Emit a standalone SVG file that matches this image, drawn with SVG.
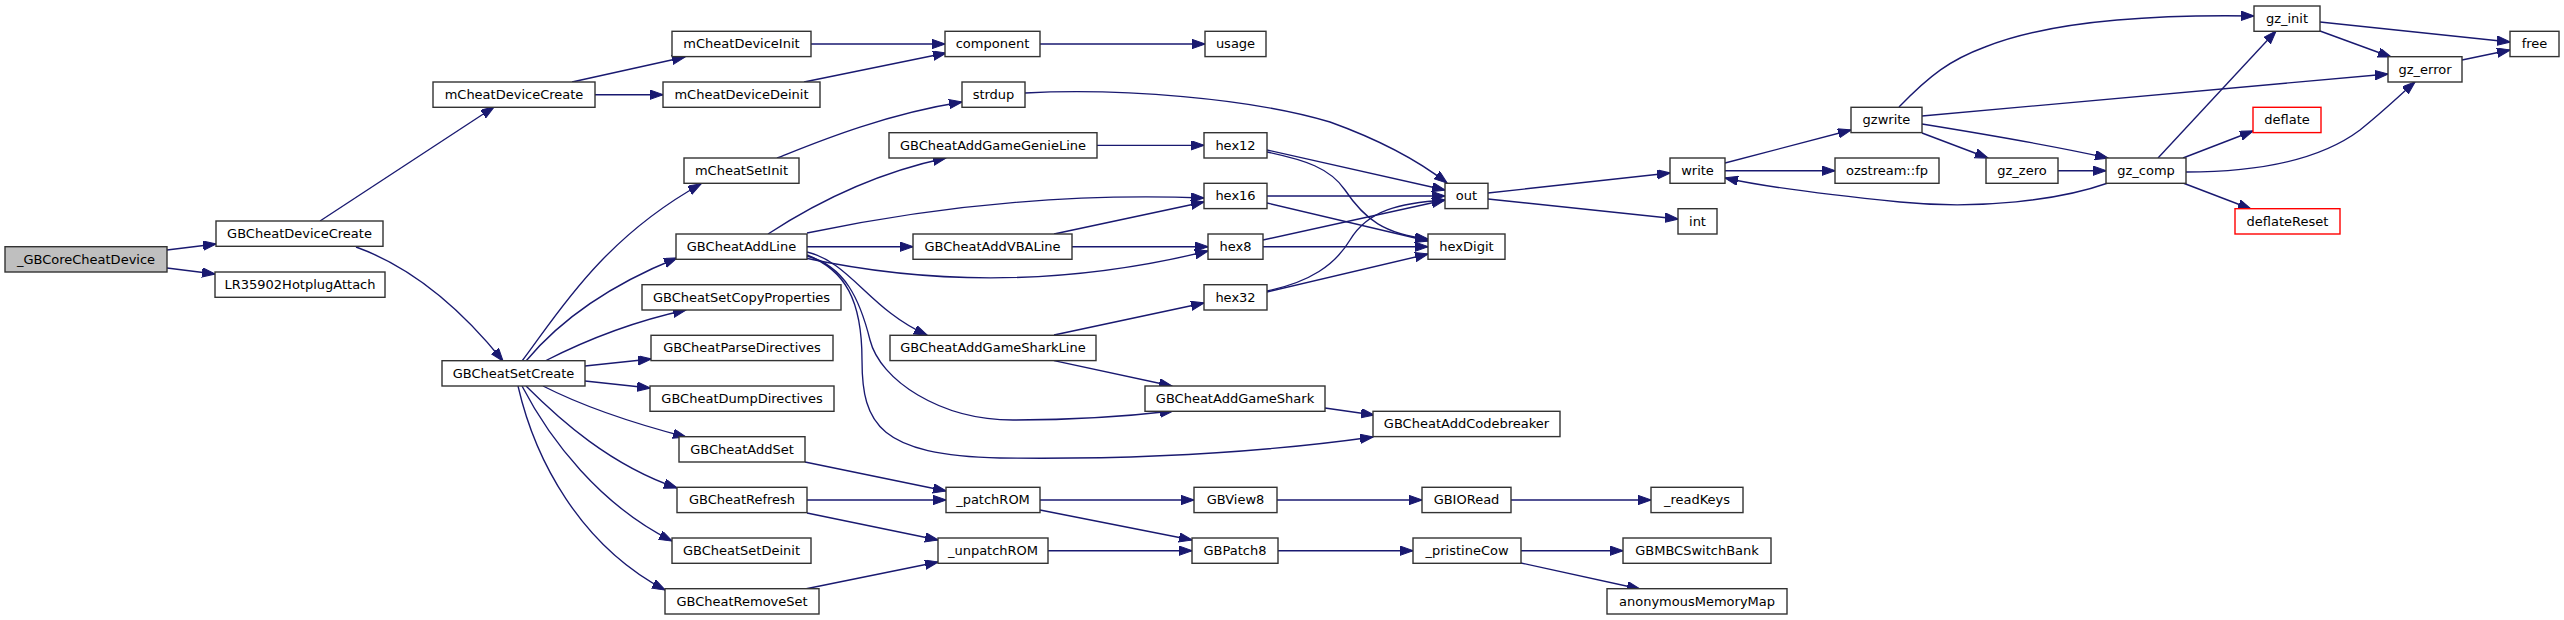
<svg xmlns="http://www.w3.org/2000/svg" width="2564" height="620" viewBox="0 0 2564 620">
<style>
.n rect{fill:#ffffff;stroke:#333333;stroke-width:1.4}
.n.root rect{fill:#bfbfbf}
.n.red rect{stroke:#ff0000}
.n text{font-family:"DejaVu Sans","Liberation Sans",sans-serif;font-size:13px;fill:#000000;text-anchor:middle}
.e path{fill:none;stroke:#191970;stroke-width:1.35;marker-end:url(#ah)}
</style>
<defs>
<marker id="ah" markerUnits="userSpaceOnUse" markerWidth="14" markerHeight="10" refX="13" refY="4.67" orient="auto" viewBox="0 0 14 10">
<path d="M0,0 L13.3,4.67 L0,9.33 z" fill="#191970" stroke="#191970" stroke-width="1"/>
</marker>
</defs>
<rect width="2564" height="620" fill="#ffffff"/>
<g id="edges" class="e">
<path d="M167,250 L216,244"/>
<path d="M167,268 L215,274"/>
<path d="M320,221 L494,107"/>
<path d="M356,247 C420,270 470,320 503,361"/>
<path d="M572,82 L685,57"/>
<path d="M595,94.7 L663,94.7"/>
<path d="M811,44 L945,44"/>
<path d="M804,82 L946,53"/>
<path d="M1040,44 L1205,44"/>
<path d="M522,361 C555,318 600,240 701,184"/>
<path d="M526,361 C560,320 610,285 677,258"/>
<path d="M545,361 C590,338 640,320 686,310"/>
<path d="M585,366 L651,359"/>
<path d="M585,381 L650,388"/>
<path d="M543,386 C590,410 640,425 686,437"/>
<path d="M526,386 C560,420 610,465 677,488"/>
<path d="M522,386 C550,440 600,505 672,541"/>
<path d="M518,386 C535,460 580,545 665,590"/>
<path d="M777,158 C810,145 880,115 962,102"/>
<path d="M1025,93 C1120,88 1250,98 1330,122 C1380,140 1420,162 1447,183"/>
<path d="M768,234 C820,200 880,172 946,158"/>
<path d="M807,233 C941,205 1074,193 1204,198"/>
<path d="M807,246.7 L913,246.7"/>
<path d="M805,258 C940,287 1074,284 1208,251"/>
<path d="M807,252 C850,262 870,310 927,335"/>
<path d="M807,256 C845,266 860,300 870,340 C880,380 940,420 1013,420 C1080,420 1130,416 1173,411"/>
<path d="M807,255 C845,270 862,300 862,360 C862,425 880,455 1000,458 C1150,460 1280,450 1373,437"/>
<path d="M1097,145.3 L1204,145.3"/>
<path d="M1054,234 L1204,202"/>
<path d="M1072,246.7 L1208,246.7"/>
<path d="M1054,335 L1204,303"/>
<path d="M1054,360.7 L1172,386"/>
<path d="M1325,408 L1374,415"/>
<path d="M1267,150 L1445,190"/>
<path d="M1267,152 C1305,160 1330,168 1345,190 C1365,220 1385,234 1428,239"/>
<path d="M1267,196 L1445,196"/>
<path d="M1267,203 L1428,241"/>
<path d="M1263,240 L1445,200"/>
<path d="M1263,246.7 L1428,246.7"/>
<path d="M1267,291 C1310,282 1335,265 1350,240 C1368,210 1400,203 1445,200"/>
<path d="M1267,292 L1428,254"/>
<path d="M1488,193 L1670,173"/>
<path d="M1488,199 L1678,219"/>
<path d="M1725,163 L1851,130"/>
<path d="M1725,170.7 L1835,170.7"/>
<path d="M2108,183 C2060,200 1980,210 1900,202 C1830,195 1770,188 1725,178"/>
<path d="M1899,107 C1930,75 1950,60 1985,47 C2040,25 2130,14 2254,16"/>
<path d="M1922,116 L2388,74"/>
<path d="M1922,124 C1990,135 2050,145 2108,158"/>
<path d="M1922,133 L1988,158"/>
<path d="M2058,170.7 L2106,170.7"/>
<path d="M2158,158 L2276,31"/>
<path d="M2183,158 L2253,131"/>
<path d="M2186,172 C2260,172 2320,160 2360,130 C2385,110 2400,95 2415,82"/>
<path d="M2183,183 L2251,209"/>
<path d="M2320,22 L2510,42"/>
<path d="M2320,31 L2391,57"/>
<path d="M2462,60 L2510,50"/>
<path d="M805,462 L946,491"/>
<path d="M807,500 L946,500"/>
<path d="M807,513 L938,540"/>
<path d="M805,589 L938,562"/>
<path d="M1040,500 L1194,500"/>
<path d="M1040,510 L1192,540"/>
<path d="M1048,550.7 L1192,550.7"/>
<path d="M1277,500 L1422,500"/>
<path d="M1511,500 L1651,500"/>
<path d="M1278,550.7 L1413,550.7"/>
<path d="M1521,550.7 L1623,550.7"/>
<path d="M1521,563 L1640,589"/>
</g>
<g id="n_GBCoreCheatDevice" class="n root"><rect x="5" y="246.7" width="162" height="25.3"/><text x="86" y="263.8">_GBCoreCheatDevice</text></g>
<g id="nGBCheatDeviceCreate" class="n"><rect x="216" y="221" width="167" height="25.3"/><text x="299.5" y="238.1">GBCheatDeviceCreate</text></g>
<g id="nLR35902HotplugAttach" class="n"><rect x="215" y="272" width="170" height="25.3"/><text x="300" y="289.1">LR35902HotplugAttach</text></g>
<g id="nmCheatDeviceCreate" class="n"><rect x="433" y="82" width="162" height="25.3"/><text x="514" y="99.1">mCheatDeviceCreate</text></g>
<g id="nGBCheatSetCreate" class="n"><rect x="442" y="360.7" width="143" height="25.3"/><text x="513.5" y="377.8">GBCheatSetCreate</text></g>
<g id="nmCheatDeviceInit" class="n"><rect x="672" y="31.3" width="139" height="25.3"/><text x="741.5" y="48.4">mCheatDeviceInit</text></g>
<g id="nmCheatDeviceDeinit" class="n"><rect x="663" y="82" width="157" height="25.3"/><text x="741.5" y="99.1">mCheatDeviceDeinit</text></g>
<g id="nmCheatSetInit" class="n"><rect x="684" y="158" width="115" height="25.3"/><text x="741.5" y="175.1">mCheatSetInit</text></g>
<g id="nGBCheatAddLine" class="n"><rect x="676" y="234" width="131" height="25.3"/><text x="741.5" y="251.1">GBCheatAddLine</text></g>
<g id="nGBCheatSetCopyProperties" class="n"><rect x="642" y="284.7" width="199" height="25.3"/><text x="741.5" y="301.8">GBCheatSetCopyProperties</text></g>
<g id="nGBCheatParseDirectives" class="n"><rect x="651" y="335.3" width="182" height="25.3"/><text x="742" y="352.4">GBCheatParseDirectives</text></g>
<g id="nGBCheatDumpDirectives" class="n"><rect x="650" y="386" width="184" height="25.3"/><text x="742" y="403.1">GBCheatDumpDirectives</text></g>
<g id="nGBCheatAddSet" class="n"><rect x="679" y="436.7" width="126" height="25.3"/><text x="742" y="453.8">GBCheatAddSet</text></g>
<g id="nGBCheatRefresh" class="n"><rect x="677" y="487.3" width="130" height="25.3"/><text x="742" y="504.4">GBCheatRefresh</text></g>
<g id="nGBCheatSetDeinit" class="n"><rect x="672" y="538" width="139" height="25.3"/><text x="741.5" y="555.1">GBCheatSetDeinit</text></g>
<g id="nGBCheatRemoveSet" class="n"><rect x="665" y="588.7" width="154" height="25.3"/><text x="742" y="605.8">GBCheatRemoveSet</text></g>
<g id="ncomponent" class="n"><rect x="945" y="31.3" width="95" height="25.3"/><text x="992.5" y="48.4">component</text></g>
<g id="nstrdup" class="n"><rect x="962" y="82" width="63" height="25.3"/><text x="993.5" y="99.1">strdup</text></g>
<g id="nGBCheatAddGameGenieLine" class="n"><rect x="889" y="132.7" width="208" height="25.3"/><text x="993" y="149.8">GBCheatAddGameGenieLine</text></g>
<g id="nGBCheatAddVBALine" class="n"><rect x="913" y="234" width="159" height="25.3"/><text x="992.5" y="251.1">GBCheatAddVBALine</text></g>
<g id="nGBCheatAddGameSharkLine" class="n"><rect x="890" y="335.3" width="206" height="25.3"/><text x="993" y="352.4">GBCheatAddGameSharkLine</text></g>
<g id="n_patchROM" class="n"><rect x="946" y="487.3" width="94" height="25.3"/><text x="993" y="504.4">_patchROM</text></g>
<g id="n_unpatchROM" class="n"><rect x="938" y="538" width="110" height="25.3"/><text x="993" y="555.1">_unpatchROM</text></g>
<g id="nusage" class="n"><rect x="1205" y="31.3" width="61" height="25.3"/><text x="1235.5" y="48.4">usage</text></g>
<g id="nhex12" class="n"><rect x="1204" y="132.7" width="63" height="25.3"/><text x="1235.5" y="149.8">hex12</text></g>
<g id="nhex16" class="n"><rect x="1204" y="183.3" width="63" height="25.3"/><text x="1235.5" y="200.4">hex16</text></g>
<g id="nhex8" class="n"><rect x="1208" y="234" width="55" height="25.3"/><text x="1235.5" y="251.1">hex8</text></g>
<g id="nhex32" class="n"><rect x="1204" y="284.7" width="63" height="25.3"/><text x="1235.5" y="301.8">hex32</text></g>
<g id="nGBCheatAddGameShark" class="n"><rect x="1145" y="386" width="180" height="25.3"/><text x="1235" y="403.1">GBCheatAddGameShark</text></g>
<g id="nGBView8" class="n"><rect x="1194" y="487.3" width="83" height="25.3"/><text x="1235.5" y="504.4">GBView8</text></g>
<g id="nGBPatch8" class="n"><rect x="1192" y="538" width="86" height="25.3"/><text x="1235" y="555.1">GBPatch8</text></g>
<g id="nGBCheatAddCodebreaker" class="n"><rect x="1373" y="411.3" width="187" height="25.3"/><text x="1466.5" y="428.4">GBCheatAddCodebreaker</text></g>
<g id="nout" class="n"><rect x="1445" y="183.3" width="43" height="25.3"/><text x="1466.5" y="200.4">out</text></g>
<g id="nhexDigit" class="n"><rect x="1428" y="234" width="77" height="25.3"/><text x="1466.5" y="251.1">hexDigit</text></g>
<g id="nGBIORead" class="n"><rect x="1422" y="487.3" width="89" height="25.3"/><text x="1466.5" y="504.4">GBIORead</text></g>
<g id="n_pristineCow" class="n"><rect x="1413" y="538" width="108" height="25.3"/><text x="1467" y="555.1">_pristineCow</text></g>
<g id="nwrite" class="n"><rect x="1670" y="158" width="55" height="25.3"/><text x="1697.5" y="175.1">write</text></g>
<g id="nint" class="n"><rect x="1678" y="208.7" width="39" height="25.3"/><text x="1697.5" y="225.8">int</text></g>
<g id="n_readKeys" class="n"><rect x="1651" y="487.3" width="92" height="25.3"/><text x="1697" y="504.4">_readKeys</text></g>
<g id="nGBMBCSwitchBank" class="n"><rect x="1623" y="538" width="148" height="25.3"/><text x="1697" y="555.1">GBMBCSwitchBank</text></g>
<g id="nanonymousMemoryMap" class="n"><rect x="1607" y="588.7" width="180" height="25.3"/><text x="1697" y="605.8">anonymousMemoryMap</text></g>
<g id="ngzwrite" class="n"><rect x="1851" y="107.3" width="71" height="25.3"/><text x="1886.5" y="124.4">gzwrite</text></g>
<g id="nozstream_fp" class="n"><rect x="1835" y="158" width="104" height="25.3"/><text x="1887" y="175.1">ozstream::fp</text></g>
<g id="ngz_zero" class="n"><rect x="1986" y="158" width="72" height="25.3"/><text x="2022" y="175.1">gz_zero</text></g>
<g id="ngz_comp" class="n"><rect x="2106" y="158" width="80" height="25.3"/><text x="2146" y="175.1">gz_comp</text></g>
<g id="ngz_init" class="n"><rect x="2254" y="6" width="66" height="25.3"/><text x="2287" y="23.1">gz_init</text></g>
<g id="ndeflate" class="n red"><rect x="2253" y="107.3" width="68" height="25.3"/><text x="2287" y="124.4">deflate</text></g>
<g id="ndeflateReset" class="n red"><rect x="2235" y="208.7" width="105" height="25.3"/><text x="2287.5" y="225.8">deflateReset</text></g>
<g id="ngz_error" class="n"><rect x="2388" y="56.7" width="74" height="25.3"/><text x="2425" y="73.8">gz_error</text></g>
<g id="nfree" class="n"><rect x="2510" y="31.3" width="49" height="25.3"/><text x="2534.5" y="48.4">free</text></g>
</svg>
